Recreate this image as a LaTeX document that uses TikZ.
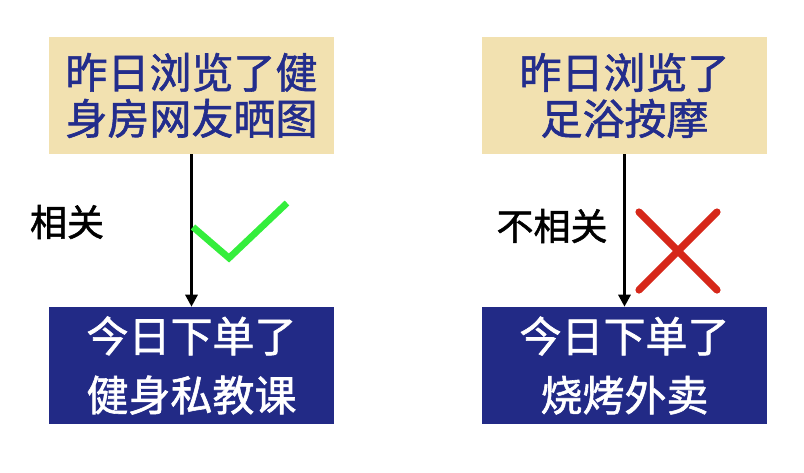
\documentclass[tikz,border=0pt]{standalone}
\usepackage{fontspec}
\setmainfont{Noto Sans CJK SC}
\newfontfamily\thickcjk{Noto Sans CJK SC}[FakeBold=1.4]
\usetikzlibrary{calc}
\usetikzlibrary{arrows.meta}
\definecolor{boxsand}{RGB}{242,225,176}
\definecolor{boxnavy}{RGB}{34,42,134}
\definecolor{textnavy}{RGB}{35,45,140}
\definecolor{tickgreen}{RGB}{52,238,60}
\definecolor{crossred}{RGB}{214,40,26}

\begin{document}
\begin{tikzpicture}[x=0.75pt, y=-0.75pt]
            \tikzstyle{yesterday} = [fill=boxsand, text=textnavy, minimum width=213.75pt, minimum height=87.75pt, inner sep=0pt, align=center, font=\thickcjk\fontsize{31.5}{34.5}\selectfont]
            \tikzstyle{today} = [fill=boxnavy, text=white, minimum width=213.75pt, minimum height=87.75pt, inner sep=0pt, align=center, font=\thickcjk\fontsize{31.5}{44.25}\selectfont]
            \tikzstyle{link} = [line width=2.2pt, -{Triangle[length=9pt, width=9pt]}]
            \tikzstyle{tag} = [inner sep=0pt, font=\thickcjk\fontsize{27.75}{30}\selectfont]
            \tikzstyle{tick} = [draw=tickgreen, line width=5pt]
            \tikzstyle{cross} = [draw=crossred, line width=5.4pt, line cap=round]

            \useasboundingbox (0, 0) rectangle (804, 472);

            \node[yesterday] (seenL) at (191.5, 95.5) {昨日浏览了健\\身房网友晒图};
            \node[today] (boughtL) at (191.5, 365.5) {今日下单了\\健身私教课};
            \draw[link] (seenL) -- (boughtL);
            \node[tag] (relL) at (67, 222) {相关};
            \draw[tick] (193, 227) -- (229, 258) -- (287, 203);

            \node[yesterday] (seenR) at (624.5, 95.5) {昨日浏览了\\足浴按摩};
            \node[today] (boughtR) at (624.5, 365.5) {今日下单了\\烧烤外卖};
            \draw[link] (seenR) -- (boughtR);
            \node[tag] (relR) at (552, 226) {不相关};
            \draw[cross] (639, 212) -- (717, 290);
            \draw[cross] (717, 212) -- (639, 290);
        \end{tikzpicture}
\end{document}
